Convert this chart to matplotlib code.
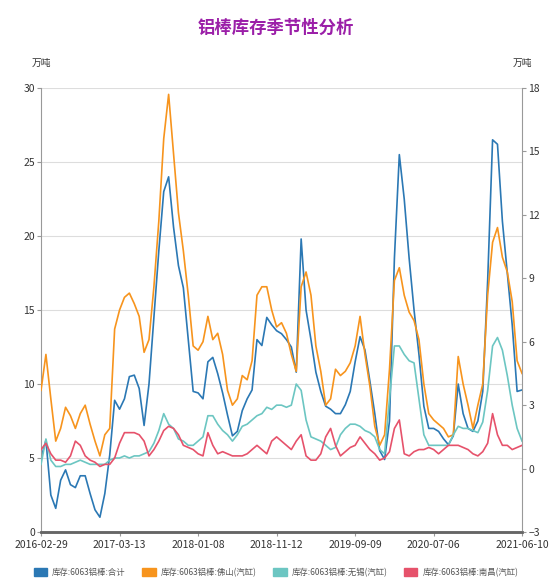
import matplotlib
matplotlib.use("Agg")
import matplotlib.pyplot as plt
from matplotlib.patches import Patch
import numpy as np

plt.rcParams["font.family"] = ["Noto Sans CJK SC", "DejaVu Sans"]

TITLE = "铝棒库存季节性分析"
UNIT = "万吨"

# category axis: weekly-ish points, labels shown at selected positions
TICK_POS = [0, 16, 32, 48, 64, 80, 98]
TICK_LABELS = ["2016-02-29", "2017-03-13", "2018-01-08", "2018-11-12",
               "2019-09-09", "2020-07-06", "2021-06-10"]

# left axis (万吨)
total = [
    5.0, 6.2, 2.5, 1.6, 3.5, 4.2, 3.2, 3.0, 3.8, 3.8,
    2.6, 1.5, 1.0, 2.6, 5.2, 8.9, 8.3, 9.0, 10.5, 10.6,
    9.7, 7.2, 10.0, 14.5, 19.0, 23.0, 24.0, 20.6, 18.0, 16.5,
    13.0, 9.5, 9.4, 9.0, 11.5, 11.8, 10.7, 9.4, 7.9, 6.5,
    6.8, 8.2, 9.0, 9.6, 13.0, 12.6, 14.5, 14.0, 13.6, 13.4,
    13.0, 12.5, 10.8, 19.8, 15.0, 13.0, 10.8, 9.5, 8.5, 8.3,
    8.0, 8.0, 8.6, 9.5, 11.5, 13.2, 12.3, 10.2, 8.0, 5.5,
    4.9, 7.5, 18.5, 25.5, 22.5, 18.5, 15.0, 12.0, 8.5, 7.0,
    7.0, 6.8, 6.3, 5.9, 6.5, 10.0, 8.0, 7.0, 6.8, 7.5,
    9.5, 17.0, 26.5, 26.2, 21.0, 17.5, 14.0, 9.5, 9.6,
]

# right axis (万吨)
foshan = [
    3.7, 5.4, 3.3, 1.3, 1.9, 2.9, 2.5, 1.9, 2.6, 3.0,
    2.1, 1.3, 0.6, 1.6, 1.9, 6.6, 7.5, 8.1, 8.3, 7.8,
    7.2, 5.5, 6.1, 8.6, 11.7, 15.6, 17.7, 14.9, 12.1, 10.3,
    8.2, 5.8, 5.6, 6.0, 7.2, 6.1, 6.4, 5.4, 3.7, 3.0,
    3.3, 4.4, 4.2, 5.1, 8.2, 8.6, 8.6, 7.5, 6.7, 6.9,
    6.4, 5.4, 4.6, 8.6, 9.3, 8.2, 5.8, 4.6, 3.0, 3.3,
    4.7, 4.4, 4.6, 5.0, 5.8, 7.2, 5.4, 3.9, 2.0, 1.1,
    1.6, 4.7, 8.9, 9.5, 8.2, 7.4, 7.0, 6.1, 4.0, 2.6,
    2.3, 2.1, 1.9, 1.5, 1.6, 5.3, 4.0, 3.0, 1.9, 3.0,
    4.0, 8.2, 10.7, 11.4, 10.0, 9.3, 7.9, 5.1, 4.5,
]

wuxi = [
    0.2, 1.4, 0.4, 0.1, 0.1, 0.2, 0.2, 0.3, 0.4, 0.3,
    0.2, 0.2, 0.2, 0.2, 0.4, 0.5, 0.5, 0.6, 0.5, 0.6,
    0.6, 0.7, 0.8, 1.2, 1.8, 2.6, 2.1, 1.9, 1.4, 1.3,
    1.1, 1.1, 1.3, 1.5, 2.5, 2.5, 2.1, 1.8, 1.6, 1.3,
    1.6, 2.0, 2.1, 2.3, 2.5, 2.6, 2.9, 2.8, 3.0, 3.0,
    2.9, 3.0, 4.0, 3.7, 2.3, 1.5, 1.4, 1.3, 1.1, 0.9,
    1.0, 1.6, 1.9, 2.1, 2.1, 2.0, 1.8, 1.7, 1.5, 0.9,
    0.7, 3.3, 5.8, 5.8, 5.4, 5.1, 5.0, 3.3, 1.6, 1.1,
    1.1, 1.1, 1.1, 1.1, 1.6, 2.0, 1.9, 1.9, 1.8, 1.7,
    2.2, 3.7, 5.8, 6.2, 5.6, 4.4, 3.0, 1.9, 1.3,
]

nanchang = [
    0.9, 1.2, 0.7, 0.4, 0.4, 0.3, 0.6, 1.3, 1.1, 0.6,
    0.4, 0.3, 0.1, 0.2, 0.2, 0.5, 1.2, 1.7, 1.7, 1.7,
    1.6, 1.3, 0.6, 0.9, 1.3, 1.8, 2.0, 1.9, 1.6, 1.1,
    1.0, 0.9, 0.7, 0.6, 1.7, 1.1, 0.7, 0.8, 0.7, 0.6,
    0.6, 0.6, 0.7, 0.9, 1.1, 0.9, 0.7, 1.3, 1.5, 1.3,
    1.1, 0.9, 1.3, 1.6, 0.6, 0.4, 0.4, 0.7, 1.5, 1.9,
    1.1, 0.6, 0.8, 1.0, 1.1, 1.5, 1.2, 0.9, 0.7, 0.4,
    0.5, 0.8, 1.9, 2.3, 0.7, 0.6, 0.8, 0.9, 0.9, 1.0,
    0.9, 0.7, 0.9, 1.1, 1.1, 1.1, 1.0, 0.9, 0.7, 0.6,
    0.8, 1.2, 2.6, 1.6, 1.1, 1.1, 0.9, 1.0, 1.1,
]

LABELS = ["库存:6063铝棒:合计", "库存:6063铝棒:佛山(汽缸)",
          "库存:6063铝棒:无锡(汽缸)", "库存:6063铝棒:南昌(汽缸)"]
COLORS = ["#2b78b4", "#f7941d", "#6cc6c2", "#e6526b"]

x = np.arange(len(total))

fig = plt.figure(figsize=(5.52, 5.81), dpi=100)
ax = fig.add_axes([0.0743, 0.0843, 0.8714, 0.7642])
ax2 = ax.twinx()

ax.plot(x, total, color=COLORS[0], lw=1.2)
ax2.plot(x, foshan, color=COLORS[1], lw=1.2)
ax2.plot(x, wuxi, color=COLORS[2], lw=1.2)
ax2.plot(x, nanchang, color=COLORS[3], lw=1.2)

ax.set_xlim(0, len(total) - 1)
ax.set_ylim(0, 30)
ax.set_yticks(np.arange(0, 31, 5))
ax2.set_ylim(-3, 18)
ax2.set_yticks(np.arange(-3, 19, 3))
ax.set_xticks(TICK_POS)
ax.set_xticklabels(TICK_LABELS)

ax.grid(axis="y", color="#dddddd", lw=0.8)
ax.set_axisbelow(True)

for a in (ax, ax2):
    a.spines["top"].set_visible(False)
    a.spines["left"].set_color("#999999")
    a.spines["right"].set_color("#999999")
    a.spines["bottom"].set_color("#666666")
    a.spines["bottom"].set_linewidth(1.8)
    a.tick_params(labelsize=7.5, colors="#333333", length=3, width=0.8,
                  pad=1.5)
ax2.spines["left"].set_visible(False)
ax.spines["right"].set_visible(False)
ax.tick_params(axis="y", color="#999999")
ax2.tick_params(axis="y", color="#999999")
ax.tick_params(axis="x", color="#999999", pad=3)

ax.text(0.0, 1.045, UNIT, transform=ax.transAxes, ha="center", va="bottom",
        fontsize=7, color="#333333")
ax2.text(1.0, 1.045, UNIT, transform=ax2.transAxes, ha="center",
         va="bottom", fontsize=7, color="#333333")

fig.text(0.5, 0.952, TITLE, ha="center", va="center", fontsize=12.5,
         fontweight="bold", color="#9b1fa8")

handles = [Patch(facecolor=c, edgecolor=c) for c in COLORS]
fig.legend(handles, LABELS, loc="lower center", bbox_to_anchor=(0.5, -0.006),
           ncol=4, frameon=False, fontsize=6, handlelength=1.6,
           handleheight=1.0, columnspacing=2.0, handletextpad=0.6,
           labelcolor="#555555")

fig.savefig("out.png", dpi=100)
